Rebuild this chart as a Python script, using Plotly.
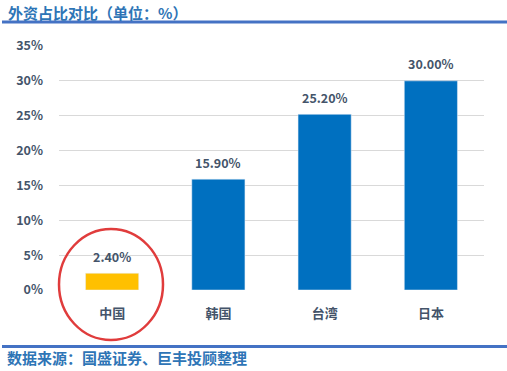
import plotly.graph_objects as go

categories = ["中国", "韩国", "台湾", "日本"]
values = [2.40, 15.90, 25.20, 30.00]
labels = ["2.40%", "15.90%", "25.20%", "30.00%"]
colors = ["#FFC000", "#0070C0", "#0070C0", "#0070C0"]
tick_vals = [0, 5, 10, 15, 20, 25, 30, 35]
tick_text = ["0%", "5%", "10%", "15%", "20%", "25%", "30%", "35%"]

W, H = 507, 371
L, R, T, B = 59, 23, 46, 81
pw, ph = W - L - R, H - T - B

def px(x):
    return (x - L) / pw

def py(y):
    return (H - B - y) / ph

FONT = "Noto Sans CJK SC, Noto Sans, sans-serif"
TXT = "#44546A"
BLUE_TXT = "#2E75B6"

fig = go.Figure(go.Bar(
    x=categories, y=values, marker_color=colors, width=0.5, hoverinfo="skip",
))

value_annotations = [
    dict(x=c, y=v, text=t, xref="x", yref="y", showarrow=False, yanchor="middle", yshift=17,
         font=dict(family=FONT, size=12.5, color=TXT, weight="bold"))
    for c, v, t in zip(categories, values, labels)
]

fig.update_layout(
    width=W, height=H, margin=dict(l=L, r=R, t=T, b=B),
    paper_bgcolor="white", plot_bgcolor="white", showlegend=False,
    font=dict(family=FONT, color=TXT),
    xaxis=dict(showgrid=False, showline=False, ticks="", tickfont=dict(size=13, color=TXT, weight="bold"),
               range=[-0.5, 3.5], ticklabelstandoff=14, fixedrange=True),
    yaxis=dict(range=[0, 35], tickvals=tick_vals, ticktext=tick_text, showline=False,
               gridcolor="#D9D9D9", gridwidth=1, zeroline=False, ticks="",
               tickfont=dict(size=12.5, color=TXT, weight="bold"), ticklabelstandoff=15, fixedrange=True),
    shapes=[
        dict(type="line", xref="paper", yref="paper", x0=px(2), x1=px(507), y0=py(22), y1=py(22),
             line=dict(color="#4472C4", width=3)),
        dict(type="line", xref="paper", yref="paper", x0=px(2), x1=px(507), y0=py(346.5), y1=py(346.5),
             line=dict(color="#4472C4", width=3)),
        dict(type="circle", xref="paper", yref="paper", x0=px(59), x1=px(163), y0=py(340), y1=py(229),
             line=dict(color="#E03C3C", width=2.5)),
    ],
    annotations=value_annotations + [
        dict(text="<b>外资占比对比（单位：%）</b>", xref="paper", yref="paper", x=px(6), y=py(12.5),
             xanchor="left", yanchor="middle", showarrow=False,
             font=dict(family=FONT, size=15, color=BLUE_TXT)),
        dict(text="<b>数据来源：国盛证券、巨丰投顾整理</b>", xref="paper", yref="paper", x=px(5), y=py(357),
             xanchor="left", yanchor="middle", showarrow=False,
             font=dict(family=FONT, size=15, color=BLUE_TXT)),
    ],
)

fig.write_html("out.html", config={"displayModeBar": False},
               post_script="document.body.style.margin='0';document.body.style.overflow='hidden';")
